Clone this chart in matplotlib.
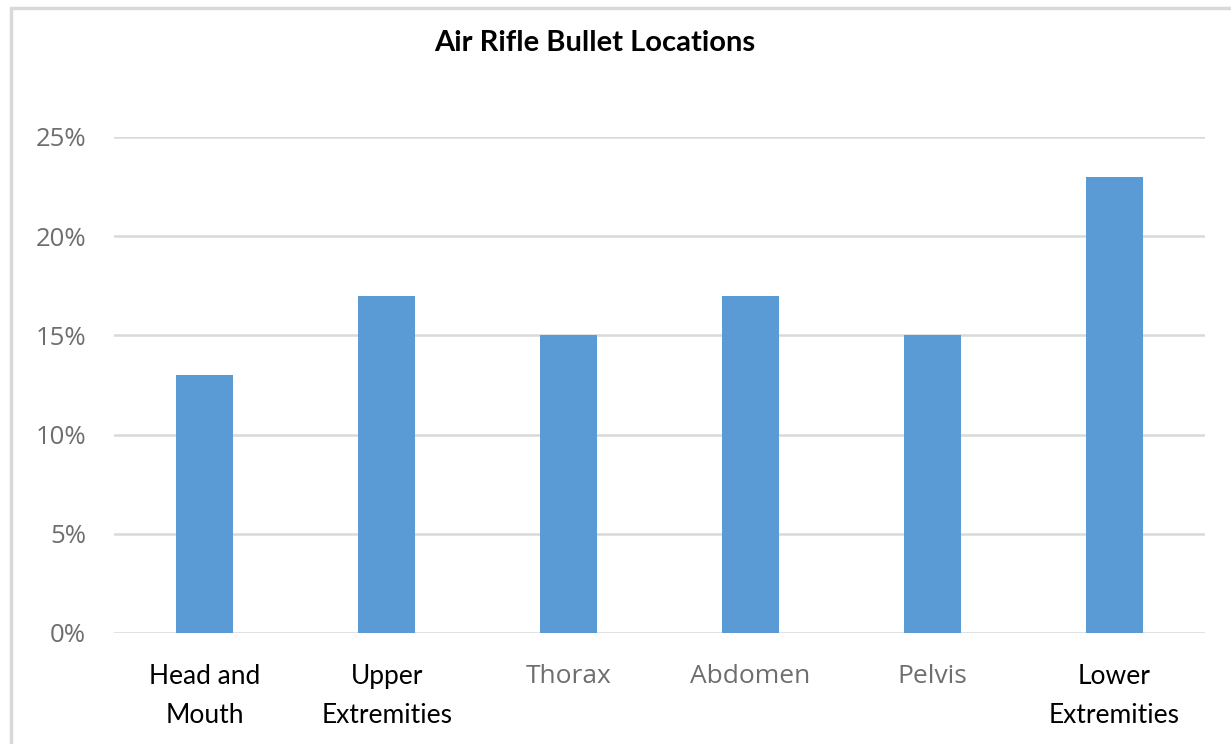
import matplotlib

matplotlib.use("Agg")

import matplotlib.pyplot as plt
from matplotlib.patches import Rectangle
from matplotlib.ticker import FuncFormatter

categories = ["Head and\nMouth", "Upper\nExtremities", "Thorax", "Abdomen", "Pelvis", "Lower\nExtremities"]
shares = [0.13, 0.17, 0.15, 0.17, 0.15, 0.23]
y_ticks = [0.0, 0.05, 0.10, 0.15, 0.20, 0.25]
# labels typed in a different font in the source chart
plain_labels = {"Thorax", "Abdomen", "Pelvis"}

BAR = "#5B9BD5"
GRID = "#D9D9D9"
GRAY = "#6E6E6E"

fig = plt.figure(figsize=(12.31, 7.44), dpi=100)
fig.patch.set_facecolor("white")

# chart border
fig.add_artist(Rectangle((11 / 1231, -0.1), 1.2, 1 - 8 / 744 + 0.1,
                         transform=fig.transFigure, fill=False,
                         edgecolor=GRID, linewidth=2.5))

ax = fig.add_axes([114 / 1231, 1 - 633 / 744, 1091 / 1231, (633 - 137) / 744])
positions = list(range(len(categories)))
ax.bar(positions, shares, width=0.314, color=BAR, zorder=3)

ax.set_xlim(-0.5, len(categories) - 0.5)
ax.set_ylim(0, 0.25)
ax.set_yticks(y_ticks)
ax.yaxis.set_major_formatter(FuncFormatter(lambda v, _: f"{v * 100:.0f}%"))
ax.grid(True, axis="y", color=GRID, linewidth=1.8, zorder=0)
ax.set_axisbelow(True)
for side in ax.spines.values():
    side.set_visible(False)

ax.tick_params(axis="y", length=0, pad=20, labelsize=18.5, labelcolor=GRAY)
for label in ax.get_yticklabels():
    label.set_fontfamily("Open Sans")

ax.set_xticks(positions)
ax.set_xticklabels(categories)
ax.tick_params(axis="x", length=0, pad=22)
for label in ax.get_xticklabels():
    if label.get_text() in plain_labels:
        label.set_fontfamily("Open Sans")
        label.set_fontsize(19)
        label.set_color(GRAY)
    else:
        label.set_fontfamily("Lato")
        label.set_fontsize(19)
        label.set_color("black")
        label.set_linespacing(1.7)

fig.text(595 / 1231, 1 - 43 / 744, "Air Rifle Bullet Locations", ha="center", va="center",
         fontsize=21, fontweight="bold", fontfamily="Lato")

fig.savefig("out.png", dpi=100, facecolor="white")
